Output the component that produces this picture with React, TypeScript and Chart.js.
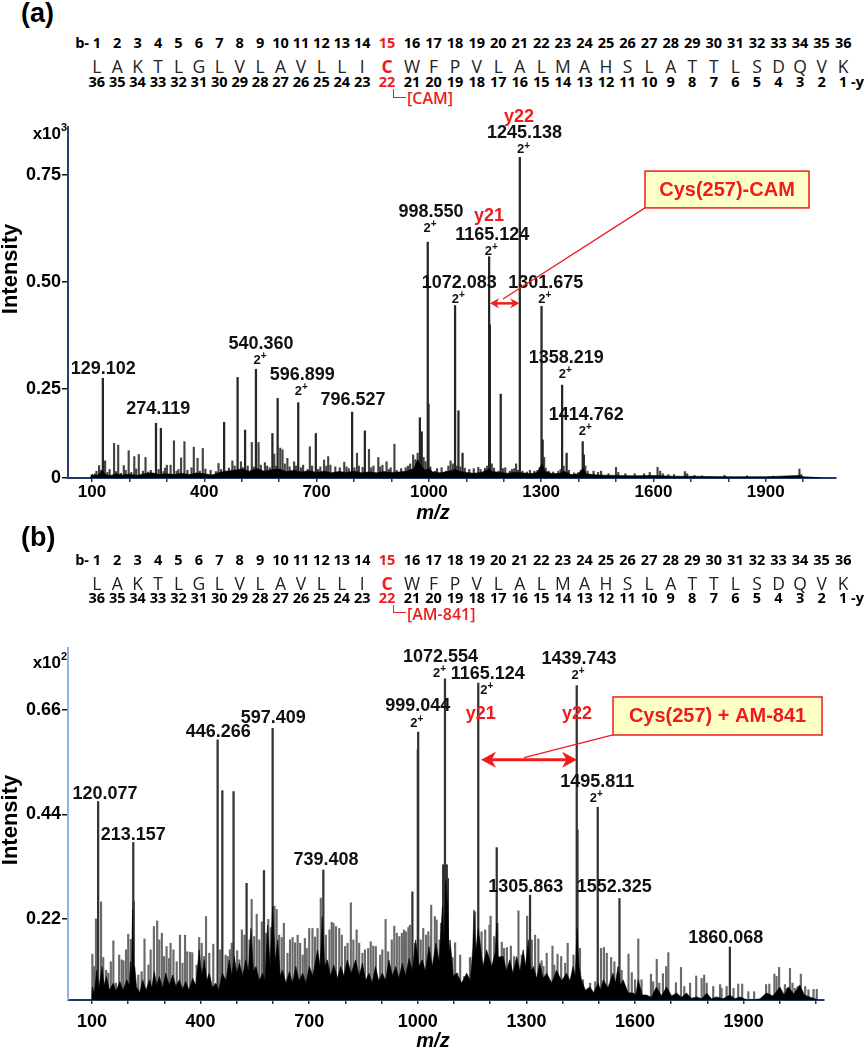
import React, { useEffect, useRef } from "react";
import { Chart, registerables } from "chart.js";

Chart.register(...registerables);

type Pair = [number, number];
type PeakLabel = { mz: number; at: number; text: string; charge?: boolean };
type IonLabel = { mz: number; at: number; text: string };
type Arrow = { fromMz: number; toMz: number; at: number; lw: number; hl: number; hw: number };
type Callout = { text: string; mzLeft: number; mzRight: number; top: number; bottom: number; tipMz: number; tipAt: number };

const RED = "#ee1c1c";
const SANS = "'Liberation Sans', Arial, sans-serif";
const SEQ = "'Open Sans', 'Noto Sans', sans-serif";

// ---------------- peptide sequence ----------------
const residues = ["L","A","K","T","L","G","L","V","L","A","V","L","L","I","C","W","F","P","V","L","A","L","M","A","H","S","L","A","T","T","L","S","D","Q","V","K"];
const bIonNumbers = residues.map((_, i) => String(i + 1));
const yIonNumbers = residues.map((_, i) => String(residues.length - i));
const modifiedIndex = 14;

// ---------------- panel (a): Cys-CAM ----------------
const xTicksA = [100,200,300,400,500,600,700,800,900,1000,1100,1200,1300,1400,1500,1600,1700,1800,1900,2000];
const xLabelTicks = [100,400,700,1000,1300,1600,1900];
const yTicksA = [0.042, 0.25, 0.5, 0.75];
const yTickLabelsA = ["0", "0.25", "0.50", "0.75"];

const majorPeaksA: Pair[] = [
  [129,0.275],[271,0.170],[284,0.158],[453,0.172],[489,0.277],[509,0.154],[538,0.296],[582,0.146],
  [596,0.228],[651,0.218],[698,0.146],[795,0.196],[829,0.152],[976,0.183],[981,0.150],[997,0.593],
  [999,0.215],[1070,0.445],[1079,0.199],[1090,0.100],[1161,0.559],[1163,0.400],[1192,0.238],
  [1243,0.791],[1301,0.443],[1304,0.131],[1356,0.259],[1368,0.100],[1411,0.127],[1414,0.096],
];
const minorPeaksA: Pair[] = [
  [99,0.049],[119,0.071],[135,0.082],[159,0.123],[170,0.119],[185,0.071],[198,0.106],[213,0.092],
  [225,0.097],[243,0.090],[300,0.072],[310,0.072],[319,0.129],[338,0.089],[347,0.127],[372,0.114],
  [382,0.088],[396,0.111],[438,0.076],[475,0.082],[498,0.080],[527,0.125],[545,0.125],[562,0.078],
  [587,0.098],[603,0.112],[609,0.108],[622,0.088],[640,0.080],[682,0.115],[720,0.084],[731,0.092],
  [774,0.079],[808,0.100],[840,0.109],[865,0.090],[887,0.080],[908,0.121],[958,0.096],[1058,0.082],
  [1132,0.067],[1233,0.075],[1500,0.067],[1611,0.067],[1684,0.057],[1990,0.063],
  [108,0.052],[112,0.058],[124,0.060],[141,0.055],[147,0.062],[164,0.057],[177,0.053],[190,0.060],
  [205,0.055],[218,0.063],[236,0.058],[250,0.056],[257,0.060],[278,0.062],[291,0.057],[295,0.065],
  [326,0.058],[331,0.062],[355,0.060],[366,0.066],[388,0.058],[403,0.063],[417,0.060],[431,0.057],
  [445,0.062],[459,0.058],[466,0.065],[481,0.070],[503,0.066],[516,0.070],[532,0.068],[551,0.072],
  [568,0.070],[575,0.066],[592,0.070],[615,0.075],[628,0.068],[645,0.070],[658,0.066],[664,0.072],
  [676,0.062],[688,0.070],[704,0.062],[710,0.068],[726,0.070],[737,0.072],[750,0.068],[762,0.066],
  [780,0.068],[786,0.064],[801,0.066],[813,0.070],[823,0.067],[846,0.066],[852,0.070],[870,0.068],
  [876,0.072],[893,0.062],[898,0.066],[914,0.060],[926,0.064],[938,0.066],[944,0.070],[950,0.075],
  [964,0.085],[970,0.100],[986,0.090],[991,0.080],[1004,0.068],[1016,0.058],[1022,0.064],[1034,0.066],
  [1046,0.058],[1052,0.070],[1064,0.075],[1074,0.070],[1084,0.068],[1096,0.065],[1108,0.062],
  [1120,0.064],[1138,0.062],[1150,0.065],[1156,0.070],[1168,0.075],[1174,0.065],[1186,0.058],
  [1198,0.064],[1204,0.066],[1216,0.058],[1222,0.062],[1228,0.064],[1238,0.060],[1250,0.058],
  [1262,0.056],[1270,0.060],[1282,0.058],[1290,0.060],[1296,0.066],[1308,0.090],[1312,0.065],
  [1320,0.058],[1332,0.056],[1346,0.058],[1352,0.062],[1360,0.070],[1374,0.060],[1388,0.054],
  [1400,0.055],[1406,0.060],[1418,0.070],[1424,0.058],[1440,0.058],[1452,0.055],[1460,0.058],
  [1480,0.052],[1506,0.055],[1525,0.052],[1550,0.052],[1575,0.052],[1590,0.055],[1618,0.058],
  [1625,0.052],[1640,0.050],[1655,0.050],[1690,0.052],[1710,0.048],[1730,0.047],[1790,0.048],
  [1850,0.047],[1920,0.046],[1995,0.050],
];
const noiseFloorA: Pair[] = [
  [96,0.042],[100,0.05],[110,0.047],[120,0.052],[128,0.06],[135,0.05],[150,0.048],[165,0.052],[180,0.049],
  [200,0.051],[220,0.048],[240,0.052],[260,0.054],[280,0.05],[300,0.052],[320,0.05],[340,0.053],[360,0.05],
  [380,0.054],[400,0.052],[420,0.049],[440,0.055],[460,0.058],[480,0.06],[500,0.063],[520,0.058],[540,0.064],
  [560,0.058],[580,0.061],[600,0.063],[620,0.057],[640,0.06],[660,0.056],[680,0.059],[700,0.055],[720,0.058],
  [740,0.054],[760,0.057],[780,0.055],[800,0.058],[820,0.054],[840,0.056],[860,0.054],[880,0.057],[900,0.055],
  [920,0.056],[940,0.058],[960,0.064],[970,0.085],[980,0.07],[990,0.06],[1000,0.065],[1010,0.056],[1030,0.054],
  [1050,0.057],[1070,0.062],[1080,0.058],[1100,0.055],[1120,0.053],[1140,0.055],[1160,0.063],[1170,0.057],
  [1190,0.055],[1210,0.053],[1230,0.055],[1250,0.054],[1270,0.052],[1290,0.055],[1302,0.075],[1310,0.058],
  [1330,0.052],[1350,0.053],[1360,0.058],[1380,0.05],[1400,0.052],[1412,0.065],[1420,0.052],[1450,0.049],
  [1500,0.048],[1550,0.047],[1600,0.048],[1650,0.046],[1700,0.046],[1800,0.045],[1900,0.045],[1990,0.048],
  [2000,0.045],[2040,0.043],[2050,0.042],
];
const peakLabelsA: PeakLabel[] = [
  { mz: 130.2, at: 0.296, text: "129.102" },
  { mz: 277.1, at: 0.203, text: "274.119" },
  { mz: 551.5, at: 0.355, text: "540.360", charge: true },
  { mz: 661.6, at: 0.283, text: "596.899", charge: true },
  { mz: 797.3, at: 0.224, text: "796.527" },
  { mz: 1005.7, at: 0.664, text: "998.550", charge: true },
  { mz: 1081, at: 0.498, text: "1072.083", charge: true },
  { mz: 1169.2, at: 0.610, text: "1165.124", charge: true },
  { mz: 1255.5, at: 0.847, text: "1245.138", charge: true },
  { mz: 1312.4, at: 0.498, text: "1301.675", charge: true },
  { mz: 1367.2, at: 0.323, text: "1358.219", charge: true },
  { mz: 1420.3, at: 0.189, text: "1414.762", charge: true },
];
const ionLabelsA: IonLabel[] = [
  { mz: 1160.7, at: 0.655, text: "y21" },
  { mz: 1240.8, at: 0.886, text: "y22" },
];
const arrowA: Arrow = { fromMz: 1163.3, toMz: 1241.6, at: 0.45, lw: 2.5, hl: 9, hw: 5 };
const calloutA: Callout = { text: "Cys(257)-CAM", mzLeft: 1577.4, mzRight: 2015.6, top: 0.759, bottom: 0.673, tipMz: 1198, tipAt: 0.46 };

// ---------------- panel (b): Cys + AM-841 ----------------
const xTicksB = [100,200,300,400,500,600,700,800,900,1000,1100,1200,1300,1400,1500,1600,1700,1800,1900,2000,2100];
const yTicksB = [0.22, 0.44, 0.66];
const yTickLabelsB = ["0.22", "0.44", "0.66"];

const majorPeaksB: Pair[] = [
  [117,0.467],[214,0.381],[215,0.256],[447,0.597],[460,0.490],[491,0.488],[527,0.295],[575,0.322],
  [599,0.621],[739,0.323],[985,0.277],[1000,0.577],[1001,0.613],[1070,0.334],[1075,0.725],[1080,0.334],
  [1083,0.305],[1167,0.716],[1218,0.370],[1310,0.270],[1439,0.711],[1441,0.407],[1497,0.455],
  [1557,0.263],[1862,0.161],
];
const minorPeaksB: Pair[] = [
  [101,0.146],[111,0.220],[125,0.256],[131,0.139],[145,0.106],[159,0.174],[175,0.144],[187,0.132],
  [200,0.188],[207,0.177],[245,0.178],[256,0.123],[271,0.204],[280,0.216],[293,0.190],[306,0.162],
  [317,0.169],[343,0.186],[357,0.186],[371,0.150],[396,0.181],[415,0.225],[435,0.167],[469,0.144],
  [481,0.155],[501,0.153],[514,0.197],[541,0.261],[555,0.230],[587,0.219],[604,0.247],[610,0.240],
  [624,0.181],[640,0.148],[654,0.181],[668,0.186],[682,0.144],[700,0.200],[716,0.182],[732,0.264],
  [762,0.213],[774,0.204],[783,0.200],[799,0.162],[815,0.254],[831,0.197],[847,0.148],[863,0.158],
  [877,0.163],[896,0.144],[911,0.219],[935,0.205],[956,0.190],[974,0.202],[1015,0.200],[1029,0.193],
  [1037,0.249],[1047,0.225],[1103,0.170],[1117,0.144],[1144,0.139],[1158,0.235],[1198,0.207],
  [1201,0.226],[1220,0.211],[1232,0.171],[1246,0.160],[1257,0.163],[1278,0.237],[1302,0.226],
  [1324,0.186],[1333,0.178],[1356,0.148],[1372,0.163],[1386,0.146],[1414,0.169],[1456,0.092],
  [1506,0.158],[1514,0.160],[1534,0.139],[1582,0.146],[1609,0.178],[1644,0.104],[1660,0.135],
  [1677,0.105],[1692,0.149],[1727,0.118],[1769,0.100],[1791,0.102],[1816,0.078],[1835,0.082],
  [1885,0.083],[1896,0.083],[1929,0.067],[1962,0.082],[1971,0.083],[1985,0.104],[1998,0.118],
  [2014,0.082],[2028,0.116],[2049,0.078],[2058,0.104],[2093,0.072],[2102,0.072],
  [106,0.120],[139,0.112],[152,0.130],[166,0.085],[182,0.134],[194,0.155],[228,0.102],[237,0.109],
  [262,0.155],[286,0.176],[299,0.141],[313,0.137],[325,0.155],[334,0.130],[350,0.127],[363,0.151],
  [377,0.149],[389,0.123],[403,0.169],[409,0.141],[424,0.148],[454,0.155],[475,0.141],[486,0.169],
  [507,0.134],[521,0.186],[535,0.176],[548,0.183],[562,0.176],[569,0.214],[581,0.190],[594,0.202],
  [617,0.186],[630,0.211],[647,0.176],[661,0.170],[675,0.169],[688,0.179],[693,0.158],[709,0.200],
  [723,0.200],[746,0.186],[756,0.197],[767,0.211],[790,0.186],[806,0.169],[822,0.176],[838,0.169],
  [854,0.155],[870,0.172],[884,0.162],[902,0.155],[918,0.151],[928,0.176],[942,0.190],[949,0.183],
  [962,0.197],[967,0.193],[978,0.207],[992,0.169],[1008,0.176],[1023,0.186],[1036,0.183],[1052,0.218],
  [1060,0.176],[1064,0.211],[1089,0.120],[1096,0.139],[1109,0.106],[1128,0.099],[1135,0.095],
  [1152,0.120],[1176,0.193],[1186,0.197],[1211,0.183],[1238,0.158],[1266,0.141],[1287,0.144],
  [1315,0.176],[1342,0.132],[1347,0.120],[1377,0.123],[1396,0.141],[1407,0.127],[1430,0.144],
  [1448,0.158],[1476,0.085],[1490,0.088],[1522,0.148],[1543,0.130],[1563,0.112],[1591,0.107],
  [1600,0.092],[1618,0.092],[1650,0.088],[1667,0.085],[1686,0.120],[1713,0.086],[1736,0.078],
  [1752,0.085],[1784,0.095],[1798,0.085],[1839,0.074],[1853,0.078],[1872,0.074],[1913,0.067],
  [1991,0.099],[2019,0.074],[2035,0.085],[2042,0.074],[2070,0.078],[2079,0.071],
];
const noiseFloorB: Pair[] = [
  [99,0.05],[101,0.077],[106,0.062],[113,0.112],[119,0.075],[128,0.12],[133,0.08],[140,0.099],[148,0.07],
  [159,0.085],[166,0.068],[177,0.088],[186,0.07],[196,0.092],[203,0.08],[206,0.13],[209,0.1],[212,0.24],
  [215,0.12],[218,0.12],[223,0.077],[232,0.065],[240,0.092],[249,0.07],[259,0.092],[265,0.075],[272,0.109],
  [279,0.08],[286,0.099],[295,0.075],[304,0.106],[313,0.08],[323,0.102],[332,0.078],[341,0.092],[350,0.072],
  [359,0.088],[368,0.07],[378,0.095],[387,0.08],[396,0.155],[403,0.1],[410,0.134],[417,0.09],[424,0.106],
  [433,0.075],[442,0.085],[450,0.07],[460,0.106],[470,0.09],[479,0.134],[486,0.1],[493,0.141],[500,0.105],
  [507,0.127],[516,0.1],[525,0.134],[532,0.11],[539,0.2],[546,0.11],[553,0.12],[562,0.09],[571,0.106],
  [578,0.09],[585,0.207],[592,0.12],[599,0.246],[606,0.13],[613,0.176],[620,0.1],[626,0.112],[636,0.085],
  [645,0.109],[654,0.085],[663,0.12],[672,0.09],[682,0.106],[691,0.085],[700,0.12],[710,0.1],[723,0.155],
  [730,0.12],[736,0.225],[743,0.12],[750,0.134],[759,0.1],[768,0.123],[778,0.095],[787,0.12],[796,0.1],
  [805,0.134],[816,0.105],[828,0.134],[838,0.1],[847,0.127],[856,0.09],[865,0.106],[874,0.085],[883,0.12],
  [892,0.09],[902,0.106],[911,0.09],[920,0.134],[930,0.1],[939,0.12],[948,0.095],[957,0.127],[966,0.1],
  [976,0.137],[985,0.11],[994,0.176],[1003,0.12],[1012,0.134],[1021,0.11],[1031,0.162],[1040,0.12],
  [1050,0.169],[1059,0.13],[1068,0.246],[1072,0.16],[1077,0.3],[1082,0.253],[1086,0.15],[1089,0.176],
  [1098,0.1],[1107,0.106],[1121,0.085],[1135,0.106],[1145,0.09],[1152,0.16],[1155,0.239],[1160,0.15],
  [1167,0.2],[1171,0.176],[1180,0.12],[1190,0.155],[1204,0.12],[1214,0.15],[1218,0.211],[1222,0.14],
  [1236,0.141],[1245,0.11],[1254,0.134],[1263,0.105],[1273,0.141],[1282,0.11],[1291,0.155],[1298,0.12],
  [1305,0.176],[1312,0.11],[1319,0.12],[1328,0.095],[1337,0.127],[1346,0.095],[1356,0.106],[1370,0.085],
  [1383,0.112],[1397,0.09],[1411,0.106],[1420,0.09],[1429,0.12],[1435,0.1],[1440,0.2],[1445,0.12],
  [1452,0.092],[1463,0.07],[1475,0.077],[1486,0.065],[1498,0.085],[1505,0.07],[1512,0.092],[1525,0.075],
  [1539,0.106],[1546,0.085],[1553,0.12],[1560,0.08],[1567,0.092],[1581,0.065],[1595,0.064],[1602,0.06],
  [1609,0.092],[1620,0.06],[1632,0.06],[1645,0.055],[1659,0.077],[1673,0.058],[1687,0.077],[1701,0.058],
  [1715,0.064],[1728,0.055],[1742,0.064],[1756,0.053],[1770,0.056],[1784,0.052],[1798,0.064],[1811,0.052],
  [1825,0.056],[1843,0.052],[1862,0.06],[1876,0.052],[1890,0.056],[1908,0.05],[1927,0.05],[1945,0.052],
  [1963,0.064],[1981,0.058],[2000,0.077],[2012,0.06],[2023,0.077],[2039,0.062],[2055,0.081],[2068,0.06],
  [2082,0.056],[2105,0.05],
];
const peakLabelsB: PeakLabel[] = [
  { mz: 135.9, at: 0.4825, text: "120.077" },
  { mz: 214.1, at: 0.397, text: "213.157" },
  { mz: 448.9, at: 0.613, text: "446.266" },
  { mz: 600.8, at: 0.6425, text: "597.409" },
  { mz: 746.4, at: 0.344, text: "739.408" },
  { mz: 1000, at: 0.667, text: "999.044", charge: true },
  { mz: 1062.7, at: 0.772, text: "1072.554", charge: true },
  { mz: 1193.1, at: 0.736, text: "1165.124", charge: true },
  { mz: 1298, at: 0.288, text: "1305.863" },
  { mz: 1445.3, at: 0.767, text: "1439.743", charge: true },
  { mz: 1495.6, at: 0.509, text: "1495.811", charge: true },
  { mz: 1542.8, at: 0.287, text: "1552.325" },
  { mz: 1850.5, at: 0.179, text: "1860.068" },
];
const ionLabelsB: IonLabel[] = [
  { mz: 1174, at: 0.652, text: "y21" },
  { mz: 1439.8, at: 0.651, text: "y22" },
];
const arrowB: Arrow = { fromMz: 1174.6, toMz: 1439.8, at: 0.5547, lw: 3, hl: 15, hw: 8 };
const calloutB: Callout = { text: "Cys(257) + AM-841", mzLeft: 1539.2, mzRight: 2116.6, top: 0.687, bottom: 0.607, tipMz: 1293.4, tipAt: 0.5596 };

// ---------------- panel layout ----------------
type PanelSpec = {
  top: number; height: number; padTop: number; padRight: number; xScaleHeight: number; xTickPadding: number; xTickFont: number;
  xMin: number; xMax: number; yMin: number; yMax: number;
  xTicks: number[]; yTicks: number[]; yTickLabels: string[];
  xAxisColor: string; yAxisColor: string; majorColor: string; minorColor: string;
  major: Pair[]; minor: Pair[]; floor: Pair[]; labels: PeakLabel[]; ions: IonLabel[]; arrow: Arrow; callout: Callout;
  exponent: string; exponentY: number; intensityY: number; mzY: number;
};

const panelA: PanelSpec = {
  top: 105, height: 420, padTop: 22, padRight: 31, xScaleHeight: 47, xTickPadding: 0, xTickFont: 17,
  xMin: 35.9, xMax: 2087.7, yMin: 0.042, yMax: 0.862,
  xTicks: xTicksA, yTicks: yTicksA, yTickLabels: yTickLabelsA,
  xAxisColor: "#1f3864", yAxisColor: "#24406e", majorColor: "#262626", minorColor: "#444444",
  major: majorPeaksA, minor: minorPeaksA, floor: noiseFloorA, labels: peakLabelsA, ions: ionLabelsA,
  arrow: arrowA, callout: calloutA, exponent: "3", exponentY: 134, intensityY: 269, mzY: 513,
};
const panelB: PanelSpec = {
  top: 625, height: 425, padTop: 23, padRight: 43, xScaleHeight: 50, xTickPadding: 7, xTickFont: 18,
  xMin: 33.7, xMax: 2122, yMin: 0.0495, yMax: 0.79,
  xTicks: xTicksB, yTicks: yTicksB, yTickLabels: yTickLabelsB,
  xAxisColor: "#1f3864", yAxisColor: "#8db3e2", majorColor: "#333333", minorColor: "#6a6a6a",
  major: majorPeaksB, minor: minorPeaksB, floor: noiseFloorB, labels: peakLabelsB, ions: ionLabelsB,
  arrow: arrowB, callout: calloutB, exponent: "2", exponentY: 663, intensityY: 820, mzY: 1041,
};

function drawCharge(ctx: CanvasRenderingContext2D, x: number, y: number) {
  ctx.font = `bold 13px ${SANS}`;
  const w2 = ctx.measureText("2").width;
  ctx.font = `bold 10px ${SANS}`;
  const wp = ctx.measureText("+").width;
  const x0 = x - (w2 + wp) / 2;
  ctx.textAlign = "left";
  ctx.textBaseline = "middle";
  ctx.font = `bold 13px ${SANS}`;
  ctx.fillText("2", x0, y);
  ctx.font = `bold 10px ${SANS}`;
  ctx.fillText("+", x0 + w2, y - 4);
}

function annotationPlugin(spec: PanelSpec) {
  return {
    id: "spectrumAnnotations",
    afterDraw(chart: any) {
      const ctx: CanvasRenderingContext2D = chart.ctx;
      const xs = chart.scales.x;
      const ys = chart.scales.y;
      const px = (v: number) => xs.getPixelForValue(v);
      const py = (v: number) => ys.getPixelForValue(v);
      const area = chart.chartArea;
      ctx.save();

      // axis titles
      ctx.fillStyle = "#000";
      ctx.textAlign = "center";
      ctx.textBaseline = "middle";
      ctx.save();
      ctx.translate(11, spec.intensityY - spec.top);
      ctx.rotate(-Math.PI / 2);
      ctx.font = `bold 22px ${SANS}`;
      ctx.fillText("Intensity", 0, 0);
      ctx.restore();
      ctx.font = `italic bold 20px ${SANS}`;
      ctx.fillText("m/z", 433, spec.mzY - spec.top);

      // exponent
      ctx.font = `bold 17px ${SANS}`;
      ctx.textAlign = "right";
      ctx.fillText("x10", area.left - 7, spec.exponentY - spec.top);
      ctx.font = `bold 11px ${SANS}`;
      ctx.textAlign = "left";
      ctx.fillText(spec.exponent, area.left - 7, spec.exponentY - spec.top - 6);

      // peak labels
      for (const l of spec.labels) {
        const x = px(l.mz);
        const y = py(l.at);
        ctx.fillStyle = "#111";
        ctx.textAlign = "center";
        ctx.textBaseline = "middle";
        ctx.font = `bold 18px ${SANS}`;
        ctx.fillText(l.text, x, y);
        if (l.charge) drawCharge(ctx, x - 1, y + 16.5);
      }
      for (const l of spec.ions) {
        ctx.fillStyle = RED;
        ctx.textAlign = "center";
        ctx.textBaseline = "middle";
        ctx.font = `bold 18px ${SANS}`;
        ctx.fillText(l.text, px(l.mz), py(l.at));
      }

      // double arrow
      const a = spec.arrow;
      const x1 = px(a.fromMz), x2 = px(a.toMz), ay = py(a.at);
      ctx.strokeStyle = RED;
      ctx.fillStyle = RED;
      ctx.lineWidth = a.lw;
      ctx.beginPath();
      ctx.moveTo(x1 + a.hl * 0.6, ay);
      ctx.lineTo(x2 - a.hl * 0.6, ay);
      ctx.stroke();
      for (const [tip, dir] of [[x1, 1], [x2, -1]] as [number, number][]) {
        ctx.beginPath();
        ctx.moveTo(tip, ay);
        ctx.lineTo(tip + dir * a.hl, ay - a.hw);
        ctx.lineTo(tip + dir * a.hl * 0.7, ay);
        ctx.lineTo(tip + dir * a.hl, ay + a.hw);
        ctx.closePath();
        ctx.fill();
      }

      // callout
      const c = spec.callout;
      const l = px(c.mzLeft), r = px(c.mzRight), t = py(c.top), b = py(c.bottom);
      ctx.lineWidth = 1.3;
      ctx.beginPath();
      ctx.moveTo(l, b);
      ctx.lineTo(px(c.tipMz), py(c.tipAt));
      ctx.stroke();
      ctx.fillStyle = "#ffffc8";
      ctx.fillRect(l, t, r - l, b - t);
      ctx.lineWidth = 1.5;
      ctx.strokeRect(l, t, r - l, b - t);
      ctx.fillStyle = RED;
      ctx.font = `bold 20px ${SANS}`;
      ctx.textAlign = "center";
      ctx.textBaseline = "middle";
      ctx.fillText(c.text, (l + r) / 2, (t + b) / 2 + 1);

      ctx.restore();
    },
  };
}

function buildConfig(spec: PanelSpec): any {
  return {
    type: "bar",
    data: {
      datasets: [
        {
          type: "bar",
          data: spec.minor.map(([x, y]) => ({ x, y })),
          backgroundColor: spec.minorColor,
          barThickness: 1.5,
          grouped: false,
          order: 3,
        },
        {
          type: "bar",
          data: spec.major.map(([x, y]) => ({ x, y })),
          backgroundColor: spec.majorColor,
          barThickness: 1.6,
          grouped: false,
          order: 2,
        },
        {
          type: "line",
          data: spec.floor.map(([x, y]) => ({ x, y })),
          fill: "start",
          backgroundColor: "#000",
          borderColor: "#000",
          borderWidth: 0.6,
          pointRadius: 0,
          tension: 0,
          order: 1,
        },
      ],
    },
    options: {
      responsive: false,
      animation: false,
      events: [],
      layout: { padding: { top: spec.padTop, right: spec.padRight, left: 0, bottom: 0 } },
      plugins: { legend: { display: false }, tooltip: { enabled: false } },
      scales: {
        x: {
          type: "linear",
          min: spec.xMin,
          max: spec.xMax,
          offset: false,
          afterBuildTicks: (s: any) => { s.ticks = spec.xTicks.map((v) => ({ value: v })); },
          afterFit: (s: any) => { s.height = spec.xScaleHeight; },
          grid: { display: true, drawOnChartArea: false, drawTicks: true, tickLength: 4, color: spec.xAxisColor, lineWidth: 1.5, offset: false },
          border: { display: true, color: spec.xAxisColor, width: 2 },
          ticks: {
            autoSkip: false,
            maxRotation: 0,
            padding: spec.xTickPadding,
            color: "#000",
            font: { family: SANS, size: spec.xTickFont, weight: "bold" },
            callback: (v: number) => (xLabelTicks.includes(v) ? String(v) : ""),
          },
        },
        y: {
          type: "linear",
          min: spec.yMin,
          max: spec.yMax,
          afterBuildTicks: (s: any) => { s.ticks = spec.yTicks.map((v) => ({ value: v })); },
          afterFit: (s: any) => { s.width = 68; },
          grid: { display: true, drawOnChartArea: false, drawTicks: true, tickLength: 6, color: "#111", lineWidth: 1.5 },
          border: { display: true, color: spec.yAxisColor, width: 2 },
          ticks: {
            autoSkip: false,
            padding: 1,
            color: "#000",
            font: { family: SANS, size: 18, weight: "bold" },
            callback: (_v: number, i: number) => spec.yTickLabels[i],
          },
        },
      },
    },
    plugins: [annotationPlugin(spec)],
  };
}

function Spectrum({ spec }: { spec: PanelSpec }) {
  const ref = useRef<HTMLCanvasElement | null>(null);
  useEffect(() => {
    if (!ref.current) return;
    const chart = new Chart(ref.current, buildConfig(spec));
    return () => chart.destroy();
  }, [spec]);
  return (
    <canvas
      ref={ref}
      width={867}
      height={spec.height}
      style={{ position: "absolute", left: 0, top: spec.top, width: 867, height: spec.height }}
    />
  );
}

function residueX(i: number) {
  if (i < 14) return 96.8 + i * 20.42;
  if (i === 14) return 387;
  return 412 + (i - 15) * 21.56;
}

function cell(cx: number, cy: number, font: string, color: string): React.CSSProperties {
  return {
    position: "absolute",
    left: cx - 20,
    width: 40,
    top: cy - 10,
    height: 20,
    lineHeight: "20px",
    textAlign: "center",
    font,
    color,
    whiteSpace: "nowrap",
  };
}

function SequenceBlock({ top, mod, modY }: { top: number; mod: string; modY: number }) {
  const numFont = `700 14.5px ${SEQ}`;
  const resFont = `400 17.5px ${SEQ}`;
  const rowB = top;
  const rowR = top + 20.5;
  const rowY = top + 38.4;
  return (
    <>
      <span style={{ ...cell(0, rowB, numFont, "#000"), left: 49, width: 40, textAlign: "right" }}>b-</span>
      {residues.map((r, i) => {
        const col = i === modifiedIndex ? RED : "#000";
        const x = residueX(i);
        return (
          <React.Fragment key={i}>
            <span style={cell(x, rowB, numFont, col)}>{bIonNumbers[i]}</span>
            <span style={cell(x, rowR, i === modifiedIndex ? `700 17.5px ${SEQ}` : resFont, i === modifiedIndex ? RED : "#222")}>{r}</span>
            <span style={cell(x, rowY, numFont, col)}>{yIonNumbers[i]}</span>
          </React.Fragment>
        );
      })}
      <span style={{ ...cell(0, rowY, numFont, "#000"), left: 851, width: 20, textAlign: "left" }}>-y</span>
      <div
        style={{
          position: "absolute",
          left: 393,
          top: rowY + 7,
          width: 12,
          height: modY - rowY - 7,
          borderLeft: `1.5px solid ${RED}`,
          borderBottom: `1.5px solid ${RED}`,
        }}
      />
      <span style={{ ...cell(0, modY, `600 16px ${SEQ}`, RED), left: 407, width: 100, textAlign: "left" }}>{mod}</span>
    </>
  );
}

function PanelTag({ text, top }: { text: string; top: number }) {
  return (
    <span
      style={{
        position: "absolute",
        left: 21,
        top,
        lineHeight: "30px",
        height: 30,
        font: `bold 27px ${SANS}`,
        color: "#000",
      }}
    >
      {text}
    </span>
  );
}

export default function App() {
  return (
    <div style={{ position: "absolute", left: 0, top: 0, width: 867, height: 1050, background: "#fff", overflow: "hidden" }}>
      <PanelTag text="(a)" top={-2} />
      <SequenceBlock top={43.3} mod="[CAM]" modY={97} />
      <Spectrum spec={panelA} />
      <PanelTag text="(b)" top={522} />
      <SequenceBlock top={560} mod="[AM-841]" modY={612.5} />
      <Spectrum spec={panelB} />
    </div>
  );
}
